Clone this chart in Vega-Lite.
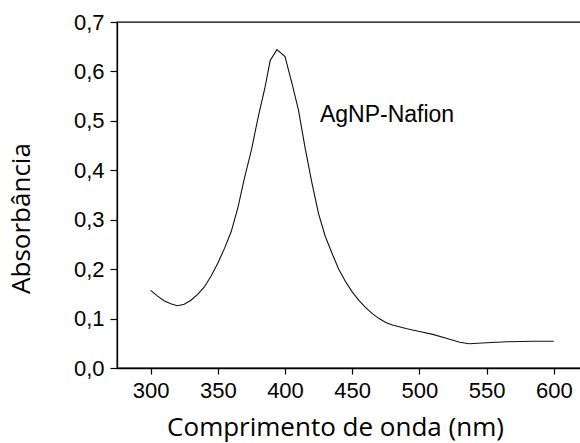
{
  "$schema": "https://vega.github.io/schema/vega-lite/v6.json",
  "width": 465,
  "height": 346,
  "autosize": "none",
  "padding": {"left": 117, "top": 22, "right": 0, "bottom": 75},
  "background": "white",
  "config": {
    "view": {"stroke": "black", "strokeWidth": 1.3},
    "axis": {
      "domainColor": "black",
      "domainWidth": 1.3,
      "tickColor": "black",
      "tickWidth": 1.2,
      "labelColor": "black",
      "labelFont": "Liberation Sans",
      "labelFontSize": 22,
      "titleFont": "Open Sans",
      "titleFontSize": 26,
      "titleFontWeight": "normal",
      "titleColor": "black",
      "grid": false
    }
  },
  "data": {
    "values": [
      {"wl": 300, "abs": 0.157}, {"wl": 305, "abs": 0.146}, {"wl": 310, "abs": 0.136},
      {"wl": 315, "abs": 0.130}, {"wl": 320, "abs": 0.126}, {"wl": 325, "abs": 0.129},
      {"wl": 330, "abs": 0.137}, {"wl": 335, "abs": 0.149}, {"wl": 340, "abs": 0.164},
      {"wl": 345, "abs": 0.186}, {"wl": 350, "abs": 0.212}, {"wl": 355, "abs": 0.242},
      {"wl": 360, "abs": 0.276}, {"wl": 365, "abs": 0.325}, {"wl": 370, "abs": 0.386},
      {"wl": 375, "abs": 0.441}, {"wl": 380, "abs": 0.507}, {"wl": 385, "abs": 0.566},
      {"wl": 389, "abs": 0.622}, {"wl": 394, "abs": 0.644}, {"wl": 400, "abs": 0.630},
      {"wl": 405, "abs": 0.578}, {"wl": 410, "abs": 0.522}, {"wl": 415, "abs": 0.445},
      {"wl": 420, "abs": 0.375}, {"wl": 425, "abs": 0.312}, {"wl": 430, "abs": 0.266},
      {"wl": 435, "abs": 0.232}, {"wl": 440, "abs": 0.200}, {"wl": 445, "abs": 0.175},
      {"wl": 450, "abs": 0.154}, {"wl": 455, "abs": 0.137}, {"wl": 460, "abs": 0.122},
      {"wl": 465, "abs": 0.110}, {"wl": 470, "abs": 0.100}, {"wl": 475, "abs": 0.092},
      {"wl": 480, "abs": 0.087}, {"wl": 490, "abs": 0.080}, {"wl": 500, "abs": 0.074},
      {"wl": 510, "abs": 0.068}, {"wl": 520, "abs": 0.060}, {"wl": 530, "abs": 0.052},
      {"wl": 537, "abs": 0.049}, {"wl": 550, "abs": 0.051}, {"wl": 565, "abs": 0.053},
      {"wl": 585, "abs": 0.054}, {"wl": 600, "abs": 0.054}
    ]
  },
  "layer": [
    {
      "mark": {"type": "line", "color": "#111111", "strokeWidth": 1.1, "clip": true},
      "encoding": {
        "x": {
          "field": "wl",
          "type": "quantitative",
          "scale": {"domain": [275, 621], "nice": false, "zero": false},
          "axis": {
            "title": "Comprimento de onda (nm)",
            "values": [300, 325, 350, 375, 400, 425, 450, 475, 500, 525, 550, 575, 600],
            "labelExpr": "datum.value % 50 == 0 ? format(datum.value, 'd') : ''",
            "tickSize": {"condition": {"test": "datum.value % 50 == 0", "value": 6}, "value": 3},
            "labelPadding": 6,
            "labelBaseline": "top",
            "titleX": 218,
            "titleY": 67,
            "titleAlign": "center",
            "titleBaseline": "alphabetic",
            "titleAnchor": null
          }
        },
        "y": {
          "field": "abs",
          "type": "quantitative",
          "scale": {"domain": [0, 0.7], "nice": false},
          "axis": {
            "title": "Absorbância",
            "values": [0, 0.05, 0.1, 0.15, 0.2, 0.25, 0.3, 0.35, 0.4, 0.45, 0.5, 0.55, 0.6, 0.65, 0.7],
            "labelExpr": "abs(datum.value * 10 - round(datum.value * 10)) < 0.001 ? replace(format(datum.value, '.1f'), '.', ',') : ''",
            "tickSize": {"condition": {"test": "abs(datum.value * 10 - round(datum.value * 10)) < 0.001", "value": 7}, "value": 4},
            "labelPadding": 6,
            "titleX": -88,
            "titleY": 196,
            "titleAngle": 270,
            "titleAlign": "center",
            "titleBaseline": "alphabetic",
            "titleAnchor": null
          }
        }
      }
    },
    {
      "data": {"values": [{"wl": 426, "abs": 0.498, "label": "AgNP-Nafion"}]},
      "mark": {"type": "text", "align": "left", "baseline": "alphabetic", "font": "Liberation Sans", "fontSize": 23, "color": "black"},
      "encoding": {
        "x": {"field": "wl", "type": "quantitative"},
        "y": {"field": "abs", "type": "quantitative"},
        "text": {"field": "label"}
      }
    }
  ]
}
